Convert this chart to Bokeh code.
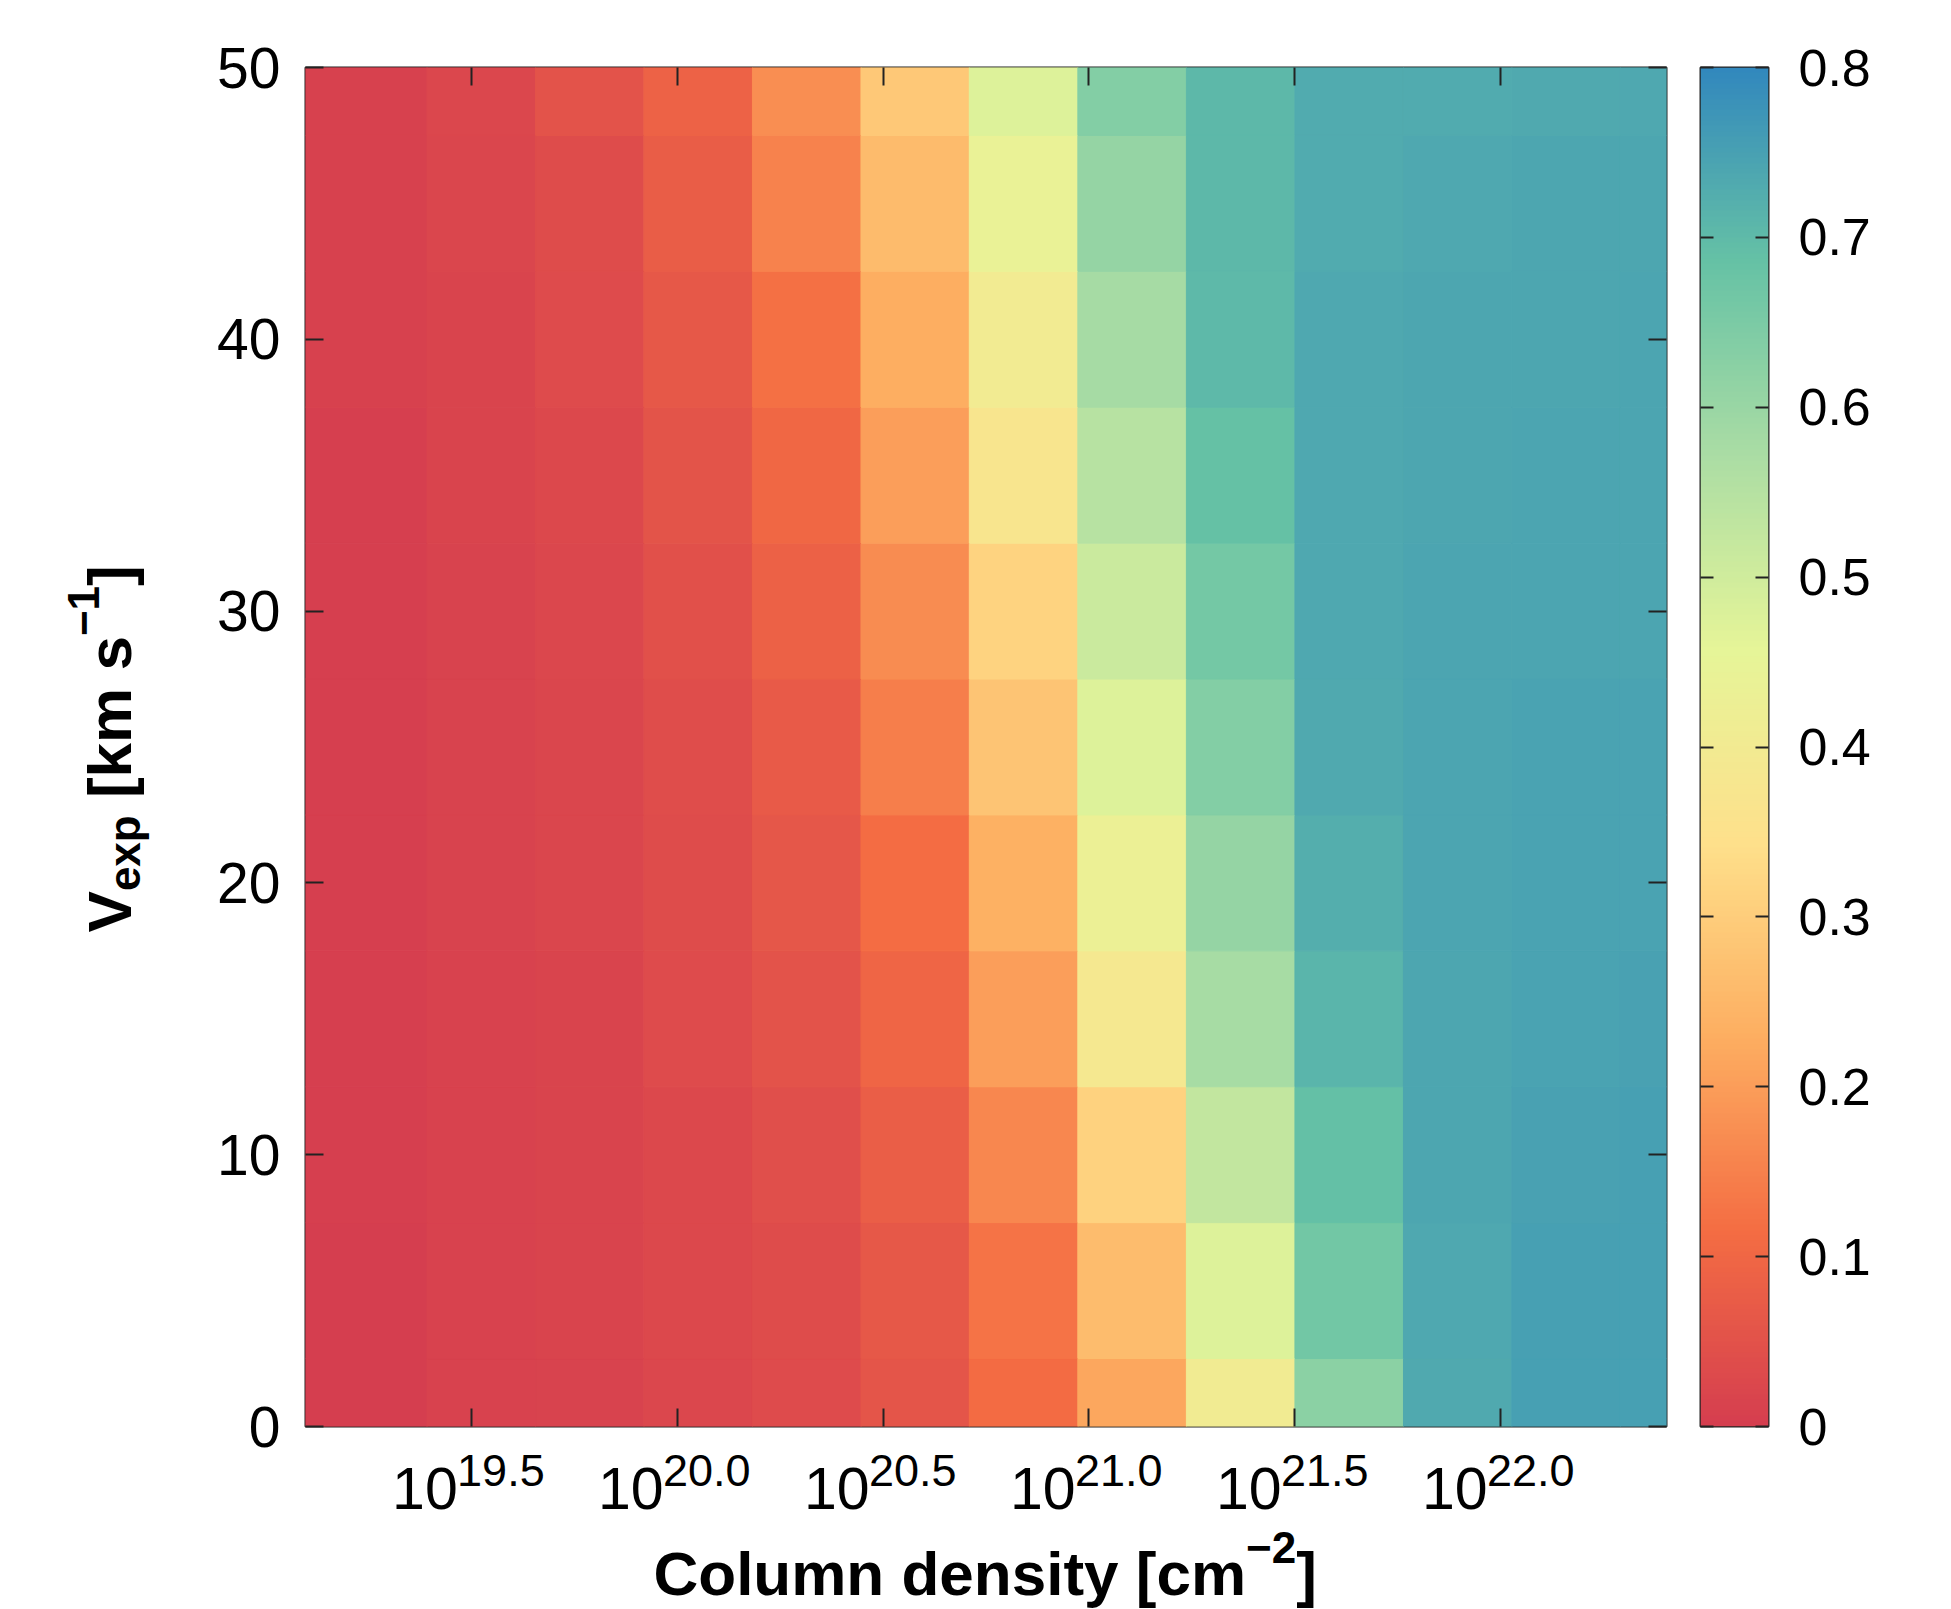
import numpy as np
from bokeh.plotting import figure
from bokeh.models import (Range1d, LinearAxis, FixedTicker, ColumnDataSource,
                          LinearColorMapper, CustomJSTickFormatter)
from bokeh.core.properties import value
from bokeh.layouts import row, column
from bokeh.embed import file_html
from bokeh.resources import INLINE

# ---------------- data ----------------
# log10 of column density [cm^-2] at the centre of each map column
log_column_density = [19.261, 19.525, 19.788, 20.051, 20.315, 20.578, 20.841,
                      21.105, 21.368, 21.632, 21.895, 22.158, 22.422]
# expansion velocity [km/s] at the centre of each map row
v_exp = [0, 5, 10, 15, 20, 25, 30, 35, 40, 45, 50]

# colour value of each cell, one list per velocity row (columns as above)
frac_v00 = [0.003, 0.010, 0.015, 0.022, 0.033, 0.057, 0.110, 0.218, 0.405, 0.624, 0.732, 0.750, 0.751]
frac_v05 = [0.003, 0.010, 0.016, 0.025, 0.037, 0.065, 0.125, 0.262, 0.473, 0.665, 0.736, 0.750, 0.750]
frac_v10 = [0.004, 0.011, 0.017, 0.028, 0.042, 0.080, 0.160, 0.310, 0.525, 0.690, 0.738, 0.749, 0.750]
frac_v15 = [0.004, 0.012, 0.018, 0.032, 0.050, 0.095, 0.200, 0.385, 0.575, 0.712, 0.738, 0.744, 0.748]
frac_v20 = [0.005, 0.013, 0.019, 0.036, 0.060, 0.115, 0.235, 0.430, 0.609, 0.723, 0.741, 0.744, 0.744]
frac_v25 = [0.005, 0.014, 0.020, 0.040, 0.070, 0.145, 0.279, 0.473, 0.637, 0.732, 0.741, 0.744, 0.744]
frac_v30 = [0.006, 0.015, 0.024, 0.046, 0.085, 0.170, 0.313, 0.510, 0.662, 0.735, 0.741, 0.743, 0.743]
frac_v35 = [0.006, 0.016, 0.027, 0.055, 0.103, 0.200, 0.370, 0.548, 0.687, 0.737, 0.740, 0.742, 0.742]
frac_v40 = [0.007, 0.017, 0.033, 0.065, 0.120, 0.230, 0.400, 0.580, 0.700, 0.736, 0.738, 0.740, 0.741]
frac_v45 = [0.008, 0.019, 0.037, 0.075, 0.150, 0.258, 0.438, 0.609, 0.705, 0.730, 0.736, 0.738, 0.739]
frac_v50 = [0.009, 0.023, 0.052, 0.090, 0.174, 0.290, 0.473, 0.636, 0.705, 0.729, 0.730, 0.732, 0.737]
frac_rows = [frac_v00, frac_v05, frac_v10, frac_v15, frac_v20, frac_v25,
             frac_v30, frac_v35, frac_v40, frac_v45, frac_v50]

x_tick_values = [19.5, 20.0, 20.5, 21.0, 21.5, 22.0]
x_tick_exponents = ["19.5", "20.0", "20.5", "21.0", "21.5", "22.0"]
y_tick_values = [0, 10, 20, 30, 40, 50]
cb_tick_values = [0, 0.1, 0.2, 0.3, 0.4, 0.5, 0.6, 0.7, 0.8]
cb_tick_labels = ["0", "0.1", "0.2", "0.3", "0.4", "0.5", "0.6", "0.7", "0.8"]

X_START, X_END = 19.098, 22.402
Y_START, Y_END = 0, 50
C_LOW, C_HIGH = 0.0, 0.8

# ---------------- style / layout (page pixels) ----------------
FONT = "Liberation Sans"
YLAB_W = 170                      # strip holding the y title
FRAME_LEFT, FRAME_TOP, FRAME_W, FRAME_H = 305, 67, 1361, 1359
MAIN_BOTTOM = 22
P_H = FRAME_TOP + FRAME_H + MAIN_BOTTOM
TOTAL_H = 1609
XF_H = TOTAL_H - P_H              # strip holding x tick labels + x title
MAIN_RIGHT = 20
CB_LEFT, CB_W, CB_RIGHT = 14, 68, 120
TICK_COLOR = "#222222"
BASE_SHIFT = 0.355                # renderer places "alphabetic" text this many em lower

spectral = ["#d53e4f", "#f46d43", "#fdae61", "#fee08b", "#e6f598", "#abdda4", "#66c2a5", "#3288bd"]
rgb = np.array([[int(c[i:i + 2], 16) for i in (1, 3, 5)] for c in spectral], dtype=float)
stops = np.linspace(0, 1, len(spectral))
tt = np.linspace(0, 1, 256)
palette = ["#%02x%02x%02x" % tuple(int(round(np.interp(t, stops, rgb[:, k]))) for k in range(3)) for t in tt]
mapper = LinearColorMapper(palette=palette, low=C_LOW, high=C_HIGH)

# ---------------- main map ----------------
xm = [(a + b) / 2 for a, b in zip(log_column_density[:-1], log_column_density[1:])]
x_left = [X_START] + xm
x_right = xm + [X_END]
ym = [(a + b) / 2 for a, b in zip(v_exp[:-1], v_exp[1:])]
y_bottom = [Y_START] + ym
y_top = ym + [Y_END]

L, R, B, T, V = [], [], [], [], []
for j, vals in enumerate(frac_rows):
    for i, val in enumerate(vals):
        L.append(x_left[i]); R.append(x_right[i])
        B.append(y_bottom[j]); T.append(y_top[j]); V.append(val)
src = ColumnDataSource(dict(left=L, right=R, bottom=B, top=T, val=V))

x_range = Range1d(X_START, X_END)
p = figure(width=(FRAME_LEFT - YLAB_W) + FRAME_W + MAIN_RIGHT, height=P_H,
           x_range=x_range, y_range=Range1d(Y_START, Y_END), title=None,
           output_backend="svg", toolbar_location=None,
           x_axis_location=None, y_axis_location=None,
           min_border_left=FRAME_LEFT - YLAB_W, min_border_right=MAIN_RIGHT,
           min_border_top=FRAME_TOP, min_border_bottom=MAIN_BOTTOM)
p.grid.visible = False
p.outline_line_color = "#222222"
p.outline_line_width = 2
p.background_fill_color = "white"
p.border_fill_color = "white"

p.quad(left="left", right="right", bottom="bottom", top="top", source=src,
       fill_color={"field": "val", "transform": mapper},
       line_color={"field": "val", "transform": mapper}, line_width=1)

empty = CustomJSTickFormatter(code="return ''")


def style_axis(ax, ticks, show_labels=False, size="57px", standoff=25, tick_len=18):
    ax.ticker = FixedTicker(ticks=ticks)
    ax.major_tick_in = tick_len
    ax.major_tick_out = 0
    ax.minor_tick_line_color = None
    ax.major_tick_line_color = TICK_COLOR
    ax.major_tick_line_width = 2
    ax.axis_line_color = None
    if show_labels:
        ax.major_label_text_font = FONT
        ax.major_label_text_font_size = size
        ax.major_label_text_color = "black"
        ax.major_label_standoff = standoff
    else:
        ax.formatter = empty
        ax.major_label_text_font_size = "0px"
        ax.major_label_standoff = 0


ax_left = LinearAxis()
style_axis(ax_left, y_tick_values, show_labels=True)
p.add_layout(ax_left, "left")
ax_right = LinearAxis()
style_axis(ax_right, y_tick_values)
p.add_layout(ax_right, "right")
ax_bottom = LinearAxis()
style_axis(ax_bottom, x_tick_values)
p.add_layout(ax_bottom, "below")
ax_top = LinearAxis()
style_axis(ax_top, x_tick_values)
p.add_layout(ax_top, "above")


def to_x(px):
    return X_START + (px - FRAME_LEFT) * (X_END - X_START) / FRAME_W


def put_text(fig, x, y, text, size, bold=False, angle=0.0, x_offset=0):
    fig.text(x=x, y=y, text=text, x_offset=x_offset, angle=angle,
             text_font=value(FONT), text_font_size=value(f"{size}px"),
             text_font_style="bold" if bold else "normal",
             text_color="black", text_align="left", text_baseline="alphabetic")


# ---------------- x tick labels and x title (strip below) ----------------
xf = figure(width=YLAB_W + (FRAME_LEFT - YLAB_W) + FRAME_W + MAIN_RIGHT, height=XF_H,
            x_range=x_range, y_range=Range1d(0, XF_H), title=None,
            output_backend="svg", toolbar_location=None,
            x_axis_location=None, y_axis_location=None,
            min_border_left=FRAME_LEFT, min_border_right=MAIN_RIGHT,
            min_border_top=0, min_border_bottom=0)
xf.grid.visible = False
xf.outline_line_color = None


def xf_y(page_y, size):
    return XF_H - (page_y - P_H) + BASE_SHIFT * size


put_text(xf, x_tick_values, [xf_y(1509, 59)] * len(x_tick_values), ["10"] * len(x_tick_values), 59, x_offset=-79)
put_text(xf, x_tick_values, [xf_y(1486, 45)] * len(x_tick_values), x_tick_exponents, 45, x_offset=-14)

XT_BASE = 1595
XT_X = 653
put_text(xf, [to_x(XT_X)], [xf_y(XT_BASE, 62)], ["Column density [cm"], 62, bold=True)
put_text(xf, [to_x(XT_X + 592.5)], [xf_y(XT_BASE - 32, 44)], ["\u22122"], 44, bold=True)
put_text(xf, [to_x(XT_X + 592.5 + 50.2)], [xf_y(XT_BASE, 62)], ["]"], 62, bold=True)

# ---------------- y title (strip at left; its frame is aligned with the map frame) ----------------
yf = figure(width=YLAB_W, height=P_H, x_range=Range1d(0, YLAB_W),
            y_range=Range1d(P_H - FRAME_TOP - FRAME_H, P_H - FRAME_TOP),
            title=None, output_backend="svg", toolbar_location=None,
            x_axis_location=None, y_axis_location=None,
            min_border_left=0, min_border_right=0,
            min_border_top=FRAME_TOP, min_border_bottom=MAIN_BOTTOM)
yf.grid.visible = False
yf.outline_line_color = None


def yf_y(page_y):
    return P_H - page_y


def yf_x(base_x, size):
    return base_x - BASE_SHIFT * size


A = np.pi / 2
YB = 131
y_v = 932
y_exp = y_v - 41.4
y_km = y_exp - 75.8 - 17.2
y_m1 = y_km - 162.0
y_br = y_m1 - 50.2
put_text(yf, [yf_x(YB, 62)], [yf_y(y_v)], ["V"], 62, bold=True, angle=A)
put_text(yf, [yf_x(YB + 9, 44)], [yf_y(y_exp)], ["exp"], 44, bold=True, angle=A)
put_text(yf, [yf_x(YB, 62)], [yf_y(y_km)], ["[km s"], 62, bold=True, angle=A)
put_text(yf, [yf_x(YB - 32, 44)], [yf_y(y_m1)], ["\u22121"], 44, bold=True, angle=A)
put_text(yf, [yf_x(YB, 62)], [yf_y(y_br)], ["]"], 62, bold=True, angle=A)

# ---------------- colour bar ----------------
cb = figure(width=CB_LEFT + CB_W + CB_RIGHT, height=P_H,
            x_range=Range1d(0, 1), y_range=Range1d(C_LOW, C_HIGH), title=None,
            output_backend="svg", toolbar_location=None,
            x_axis_location=None, y_axis_location=None,
            min_border_left=CB_LEFT, min_border_right=CB_RIGHT,
            min_border_top=FRAME_TOP, min_border_bottom=MAIN_BOTTOM)
cb.grid.visible = False
cb.outline_line_color = "#222222"
cb.outline_line_width = 2
grad = np.linspace(C_LOW, C_HIGH, 256).reshape(256, 1)
cb.image(image=[grad], x=0, y=C_LOW, dw=1, dh=C_HIGH - C_LOW, color_mapper=mapper)

cb_left = LinearAxis()
style_axis(cb_left, cb_tick_values, tick_len=13)
cb.add_layout(cb_left, "left")
cb_right = LinearAxis()
style_axis(cb_right, cb_tick_values, show_labels=True, size="52px", standoff=30, tick_len=13)
cb_right.major_label_overrides = {v: s for v, s in zip(cb_tick_values, cb_tick_labels)}
cb.add_layout(cb_right, "right")

layout = column(row(yf, p, cb), xf)
open("out.html", "w").write(file_html(layout, INLINE))
